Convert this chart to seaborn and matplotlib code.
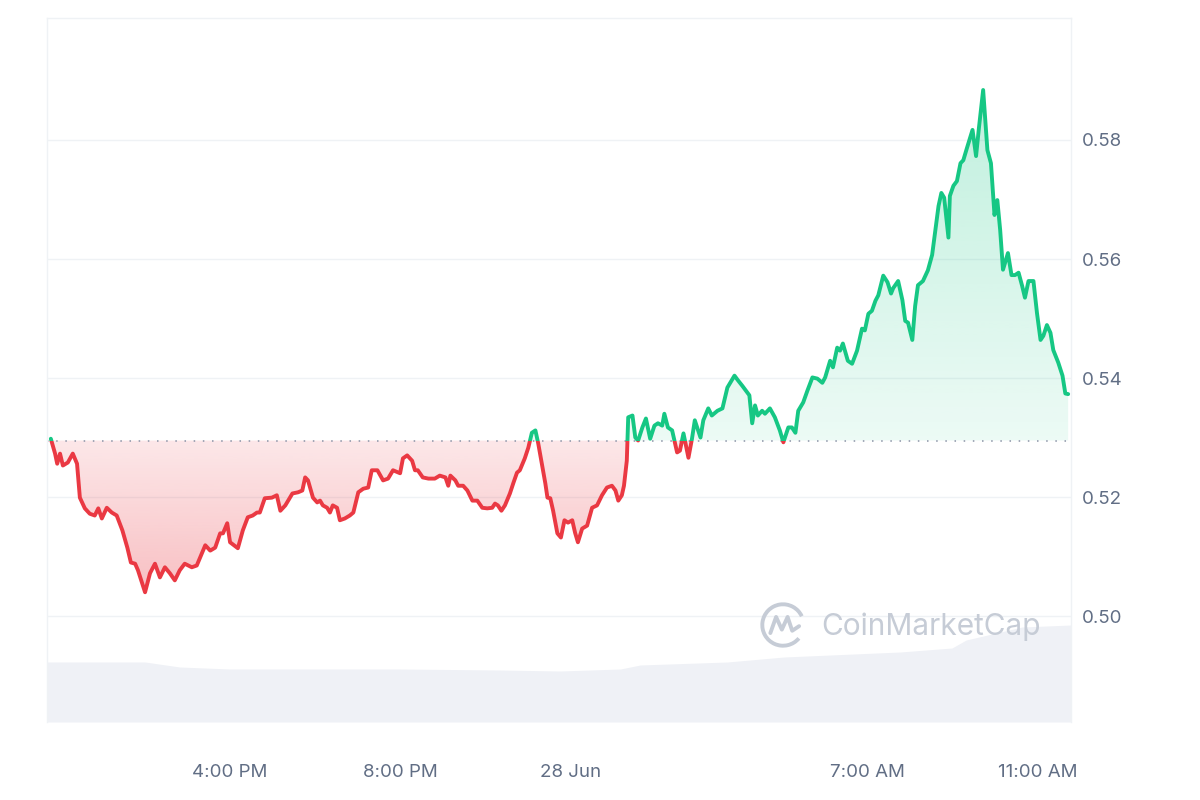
import numpy as np
import pandas as pd
import matplotlib
matplotlib.use("Agg")
import matplotlib.pyplot as plt
import matplotlib.dates as mdates
from matplotlib.patches import Rectangle, Arc
from matplotlib.path import Path
import seaborn as sns

# price readings: minutes after 27 Jun 00:00 and price (USD)
minutes = [707, 713, 716, 720, 724, 731, 738, 744, 748, 755, 762, 769, 774, 779, 786, 793, 800, 808, 815, 820,
           826, 830, 836, 840, 847, 854, 861, 868, 875, 882, 889, 896, 906, 913, 920, 925, 932, 939,
           946, 950, 956, 960, 971, 978, 985, 992, 998, 1002, 1009, 1019, 1026, 1031, 1038, 1048, 1056, 1062,
           1066, 1070, 1077, 1083, 1087, 1091, 1097, 1101, 1105, 1111, 1115, 1122, 1129, 1134, 1141, 1148,
           1155, 1160, 1168, 1176, 1183,
           1190, 1200, 1204, 1210, 1217, 1221, 1225, 1232, 1240, 1249, 1256, 1264, 1268, 1271, 1278, 1282,
           1289, 1295, 1302, 1309, 1316, 1323, 1330, 1334, 1338, 1343, 1348, 1355, 1360, 1365, 1369, 1376,
           1381, 1386, 1391, 1395, 1400, 1405, 1408, 1412, 1416, 1422, 1427, 1432, 1437, 1443, 1447, 1451,
           1457, 1464, 1471, 1478, 1485, 1492, 1499, 1504, 1508, 1513, 1516, 1520, 1522, 1528, 1532, 1536,
           1542, 1547, 1553, 1559, 1564, 1570, 1573, 1578, 1584, 1591, 1595, 1600, 1607, 1612, 1616, 1624,
           1628, 1635, 1640, 1648, 1655, 1662,
           1672, 1677, 1683, 1690, 1693, 1697, 1701, 1705, 1711, 1715, 1722, 1729, 1736, 1741, 1748, 1753,
           1758, 1762, 1769, 1775, 1782, 1789, 1796, 1800, 1807, 1811, 1817, 1821, 1825, 1832, 1838, 1845,
           1852, 1856, 1861, 1866, 1871, 1875, 1882, 1888, 1893, 1896, 1903,
           1909, 1913, 1917, 1923, 1927, 1931, 1938, 1945, 1951, 1955, 1960, 1964, 1968, 1974, 1976, 1981,
           1986, 1991, 1995, 2000, 2008, 2013, 2017, 2023, 2029, 2034, 2039, 2043, 2047, 2051, 2058, 2063,
           2068, 2073, 2078, 2082, 2087, 2094, 2099, 2104, 2108, 2113, 2118, 2122, 2129, 2135, 2139, 2143]

price = [0.5298, 0.5273, 0.5256, 0.5273, 0.5253, 0.5258, 0.5273, 0.5256, 0.5199, 0.5181, 0.5172, 0.5169,
         0.5181, 0.5164, 0.5182, 0.5174, 0.5169, 0.5144, 0.5115, 0.5090, 0.5088, 0.5077, 0.5055, 0.5040,
         0.5072, 0.5088, 0.5065, 0.5082, 0.5072, 0.5060, 0.5077, 0.5088, 0.5082, 0.5085, 0.5105, 0.5119,
         0.5110, 0.5115,
         0.5139, 0.5139, 0.5156, 0.5124, 0.5114, 0.5144, 0.5166, 0.5169, 0.5174, 0.5174, 0.5198, 0.5199,
         0.5203, 0.5177, 0.5186, 0.5206, 0.5208, 0.5211, 0.5233, 0.5228, 0.5199, 0.5191, 0.5194, 0.5186,
         0.5182, 0.5174, 0.5186, 0.5182, 0.5161, 0.5164, 0.5169, 0.5174, 0.5208, 0.5214, 0.5216, 0.5245,
         0.5245, 0.5228, 0.5231,
         0.5245, 0.5240, 0.5265, 0.5270, 0.5261, 0.5245, 0.5245, 0.5233, 0.5231, 0.5231, 0.5236, 0.5233,
         0.5219, 0.5236, 0.5228, 0.5219, 0.5219, 0.5211, 0.5194, 0.5194, 0.5182, 0.5181, 0.5182, 0.5189,
         0.5186, 0.5177, 0.5186, 0.5206, 0.5224, 0.5241, 0.5245, 0.5265, 0.5283, 0.5308, 0.5312, 0.5290,
         0.5256, 0.5223, 0.5199, 0.5198, 0.5177, 0.5139, 0.5132, 0.5161, 0.5157, 0.5161, 0.5140, 0.5124,
         0.5147, 0.5152, 0.5182, 0.5186, 0.5203, 0.5216, 0.5219, 0.5211, 0.5194, 0.5203, 0.5219, 0.5261,
         0.5334, 0.5337, 0.5300, 0.5295, 0.5317, 0.5332, 0.5298, 0.5320, 0.5324, 0.5320, 0.5340, 0.5317,
         0.5312, 0.5275, 0.5278, 0.5307, 0.5266, 0.5298, 0.5329, 0.5300, 0.5329, 0.5349, 0.5337, 0.5345,
         0.5349, 0.5384,
         0.5404, 0.5396, 0.5387, 0.5376, 0.5371, 0.5324, 0.5354, 0.5337, 0.5345, 0.5340, 0.5349, 0.5334,
         0.5312, 0.5292, 0.5317, 0.5317, 0.5308, 0.5345, 0.5359, 0.5379, 0.5401, 0.5399, 0.5392, 0.5401,
         0.5429, 0.5418, 0.5451, 0.5446, 0.5458, 0.5429, 0.5424, 0.5446, 0.5483, 0.5480, 0.5508, 0.5513,
         0.5530, 0.5539, 0.5572, 0.5561, 0.5542, 0.5551, 0.5563,
         0.5531, 0.5496, 0.5493, 0.5464, 0.5521, 0.5556, 0.5563, 0.5581, 0.5607, 0.5644, 0.5689, 0.5711,
         0.5703, 0.5636, 0.5706, 0.5723, 0.5731, 0.5761, 0.5766, 0.5786, 0.5817, 0.5773, 0.5820, 0.5884,
         0.5783, 0.5761, 0.5674, 0.5699, 0.5649, 0.5582, 0.5610, 0.5573, 0.5573, 0.5577, 0.5555, 0.5535,
         0.5563, 0.5563, 0.5509, 0.5464, 0.5471, 0.5489, 0.5476, 0.5447, 0.5426, 0.5404, 0.5374, 0.5373]

open_price = 0.5295

# 24h volume (millions), background area
vol_minutes = [702, 840, 889, 960, 1200, 1341, 1426, 1511, 1539, 1662, 1742, 1906, 1979, 1999, 2078, 2147]
volume = [30, 30, 27.5, 26.5, 26.5, 26, 25.5, 26.5, 28.5, 30, 32.5, 35, 37, 41, 47.5, 48.5]

tick_times = ["2023-06-27 16:00", "2023-06-27 20:00", "2023-06-28 00:00", "2023-06-28 07:00", "2023-06-28 11:00"]
tick_labels = ["4:00 PM", "8:00 PM", "28 Jun", "7:00 AM", "11:00 AM"]
price_ticks = [0.50, 0.52, 0.54, 0.56, 0.58]

day0 = pd.Timestamp("2023-06-27")
times = day0 + pd.to_timedelta(minutes, unit="m")
vol_times = day0 + pd.to_timedelta(vol_minutes, unit="m")
x_start = day0 + pd.Timedelta(minutes=701.6)
x_end = day0 + pd.Timedelta(minutes=2147)

RED = "#ea3943"
GREEN = "#16c784"
LABEL = "#616e85"

sns.set_theme(style="white")
plt.rcParams["font.family"] = ["Inter", "DejaVu Sans"]

fig = plt.figure(figsize=(12, 8), dpi=100)
ax = fig.add_axes([47 / 1200, 1 - 722 / 800, 1024 / 1200, 704 / 800])
ax_vol = ax.twinx()

# volume in the back
ax_vol.fill_between(vol_times, volume, 0, color="#eff1f6", lw=0)
ax_vol.set_ylim(0, 352)
ax_vol.axis("off")
ax.set_zorder(2)
ax_vol.set_zorder(1)
ax.patch.set_visible(False)

p = np.array(price)
tnum = mdates.date2num(times)

# gradient fills between price and open price
below = ax.fill_between(times, p, open_price, where=p <= open_price, interpolate=True,
                        facecolor="none", edgecolor="none")
above = ax.fill_between(times, p, open_price, where=p >= open_price, interpolate=True,
                        facecolor="none", edgecolor="none")


def gradient(poly, color, y0, y1, a0, a1):
    rgb = matplotlib.colors.to_rgb(color)
    img = np.zeros((256, 1, 4))
    img[..., :3] = rgb
    img[..., 3] = np.linspace(a0, a1, 256).reshape(-1, 1)
    im = ax.imshow(img, extent=[tnum[0], tnum[-1], y0, y1], origin="lower",
                   aspect="auto", zorder=1, interpolation="bilinear")
    im.set_clip_path(Path.make_compound_path(*poly.get_paths()), ax.transData)


gradient(below, RED, p.min(), open_price, 0.32, 0.12)
gradient(above, GREEN, open_price, p.max(), 0.08, 0.27)

# line, green above the open price and red below
sns.lineplot(x=times, y=p, ax=ax, color=GREEN, lw=2.8, zorder=3)
sns.lineplot(x=times, y=p, ax=ax, color=RED, lw=2.8, zorder=3)
g_line, r_line = ax.lines[-2], ax.lines[-1]
for ln in (g_line, r_line):
    ln.set_solid_joinstyle("round")
g_line.set_clip_path(Rectangle((tnum[0] - 1, open_price), 3, 1, transform=ax.transData))
r_line.set_clip_path(Rectangle((tnum[0] - 1, open_price - 1), 3, 1, transform=ax.transData))

ax.axhline(open_price, color="#8a93a6", lw=1.1, ls=(0, (1, 5)), zorder=2)

ax.set_xlim(x_start, x_end)
ax.set_ylim(0.4822, 0.6005)

ax.set_xticks(mdates.date2num(pd.to_datetime(tick_times)))
ax.set_xticklabels(tick_labels)
ax.set_yticks(price_ticks)
ax.set_yticklabels([f"{v:.2f}" for v in price_ticks])
ax.yaxis.tick_right()
ax.tick_params(axis="x", length=0, pad=30, labelsize=13.5, labelcolor=LABEL)
ax.tick_params(axis="y", length=0, pad=8, labelsize=13.5, labelcolor=LABEL)
ax.grid(axis="y", color="#eff2f5", lw=1)
ax.grid(axis="x", visible=False)
ax.set_xlabel("")
ax.set_ylabel("")
for side in ["top", "left", "right"]:
    ax.spines[side].set_color("#eff2f5")
    ax.spines[side].set_linewidth(1)
ax.spines["bottom"].set_visible(False)

# watermark
fig.text(821 / 1200, 1 - 627 / 800, "CoinMarketCap", fontsize=21.5, color="#c6ccd6",
         ha="left", va="center", zorder=5)
logo = fig.add_axes([760 / 1200, 1 - 648 / 800, 46 / 1200, 46 / 800], zorder=5)
logo.set_xlim(-1, 1)
logo.set_ylim(-1, 1)
logo.axis("off")
logo.add_patch(Arc((0, 0), 1.8, 1.8, theta1=25, theta2=320, color="#c6ccd6", lw=2.8))
logo.plot([-0.55, -0.3, -0.05, 0.2, 0.4, 0.7], [-0.35, 0.35, -0.2, 0.35, -0.25, -0.05],
          color="#c6ccd6", lw=2.8, solid_joinstyle="round", solid_capstyle="round")

fig.savefig("out.png", dpi=100)
